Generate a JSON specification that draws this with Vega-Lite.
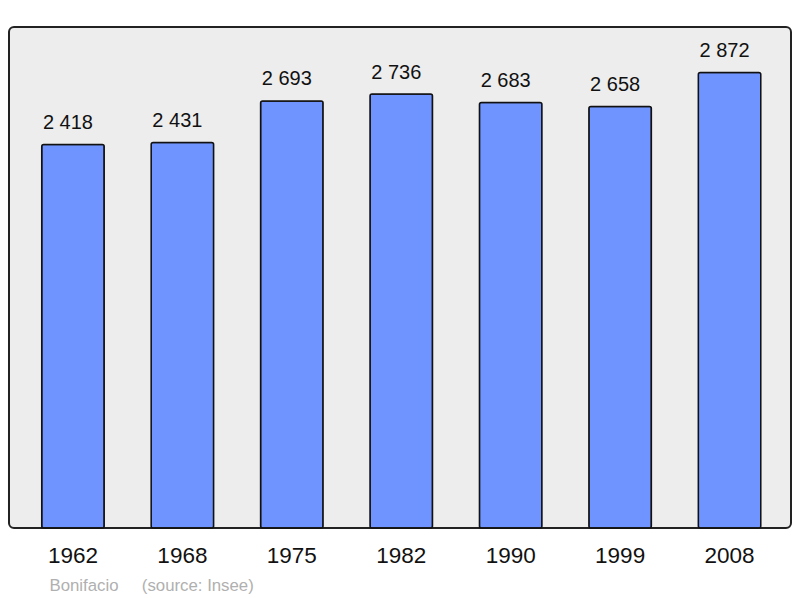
{
  "$schema": "https://vega.github.io/schema/vega-lite/v6.json",
  "autosize": {"type": "none"},
  "width": 782,
  "height": 501,
  "padding": {"left": 9, "top": 27, "right": 9, "bottom": 70},
  "background": "white",
  "config": {
    "font": "Liberation Sans",
    "view": {"fill": "#ededed", "stroke": "#222222", "strokeWidth": 2, "cornerRadius": 5}
  },
  "data": {
    "values": [
      {"year": "1962", "pop": 2418, "label": "2 418"},
      {"year": "1968", "pop": 2431, "label": "2 431"},
      {"year": "1975", "pop": 2693, "label": "2 693"},
      {"year": "1982", "pop": 2736, "label": "2 736"},
      {"year": "1990", "pop": 2683, "label": "2 683"},
      {"year": "1999", "pop": 2658, "label": "2 658"},
      {"year": "2008", "pop": 2872, "label": "2 872"}
    ]
  },
  "encoding": {
    "x": {
      "field": "year",
      "type": "nominal",
      "sort": null,
      "scale": {"paddingInner": 0.429, "paddingOuter": 0.2875, "align": 0.52},
      "axis": {
        "title": "Bonifacio\u00a0\u00a0\u00a0\u00a0 (source: Insee)",
        "titleFontSize": 16.8,
        "titleFontWeight": "normal",
        "titleColor": "#b0b0b0",
        "titleAnchor": "start",
        "titleAlign": "left",
        "titleX": 40,
        "titleY": 49,
        "domain": false,
        "ticks": false,
        "labelAngle": 0,
        "labelFontSize": 22.5,
        "labelColor": "#111111",
        "labelPadding": 16
      }
    },
    "y": {
      "field": "pop",
      "type": "quantitative",
      "scale": {"domain": [0, 3159], "nice": false},
      "axis": null
    }
  },
  "layer": [
    {
      "mark": {"type": "bar", "fill": "#7094ff", "stroke": "#111111", "strokeWidth": 1.5, "cornerRadius": 2}
    },
    {
      "mark": {"type": "text", "fontSize": 20, "color": "#111111", "baseline": "alphabetic", "dy": -15.5, "dx": -5},
      "encoding": {"text": {"field": "label"}}
    }
  ]
}
